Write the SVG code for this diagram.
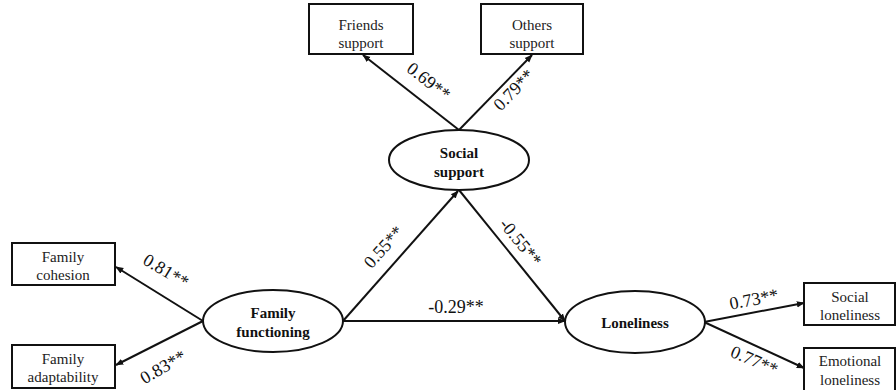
<svg xmlns="http://www.w3.org/2000/svg" width="896" height="390" viewBox="0 0 896 390">
<defs>
<style>
.box{fill:#fff;stroke:#111;stroke-width:2}
.ell{fill:#fff;stroke:#111;stroke-width:2}
.bt{font-family:"Liberation Serif","Times New Roman",serif;font-size:15px;fill:#222;text-anchor:middle}
.et{font-family:"Liberation Serif","Times New Roman",serif;font-size:15px;font-weight:bold;fill:#111;text-anchor:middle}
.lb{font-family:"Liberation Serif","Times New Roman",serif;font-size:18px;fill:#111;text-anchor:middle}
.ln{stroke:#111;stroke-width:2;fill:none;marker-end:url(#ah)}
</style>
<marker id="ah" viewBox="0 0 10 10" refX="9" refY="5" markerWidth="8" markerHeight="8" markerUnits="userSpaceOnUse" orient="auto">
<path d="M0,1 L10,5 L0,9 z" fill="#111"/>
</marker>
</defs>
<rect width="896" height="390" fill="#fff"/>
<g id="connectors">
<line class="ln" x1="459" y1="130" x2="363" y2="55"/>
<line class="ln" x1="459" y1="130" x2="532" y2="55"/>
<line class="ln" x1="343" y1="321" x2="458" y2="191"/>
<line class="ln" x1="459" y1="190" x2="565" y2="321"/>
<line class="ln" x1="343" y1="321" x2="565" y2="321"/>
<line class="ln" x1="203" y1="321" x2="116" y2="267"/>
<line class="ln" x1="203" y1="321" x2="116" y2="365"/>
<line class="ln" x1="704" y1="322" x2="804" y2="303"/>
<line class="ln" x1="704" y1="322" x2="804" y2="368"/>
<text class="lb" transform="translate(425,86) rotate(38)">0.69**</text>
<text class="lb" transform="translate(518,94) rotate(-46)">0.79**</text>
<text class="lb" transform="translate(388,251) rotate(-48)">0.55**</text>
<text class="lb" transform="translate(516,246) rotate(51)">-0.55**</text>
<text class="lb" x="456" y="313">-0.29**</text>
<text class="lb" transform="translate(163,276) rotate(31)">0.81**</text>
<text class="lb" transform="translate(166,372) rotate(-30)">0.83**</text>
<text class="lb" transform="translate(755,305) rotate(-11)">0.73**</text>
<text class="lb" transform="translate(752,366) rotate(23)">0.77**</text>
</g>
<g id="friends">
<rect class="box" x="309" y="4" width="104" height="50"/>
<text class="bt" x="361" y="30">Friends</text>
<text class="bt" x="361" y="48">support</text>
</g>
<g id="others">
<rect class="box" x="481" y="4" width="102" height="50"/>
<text class="bt" x="532" y="30">Others</text>
<text class="bt" x="532" y="48">support</text>
</g>
<g id="social-support">
<ellipse class="ell" cx="459" cy="160" rx="70" ry="30"/>
<text class="et" x="459" y="158">Social</text>
<text class="et" x="459" y="177">support</text>
</g>
<g id="family-functioning">
<ellipse class="ell" cx="273" cy="321" rx="70" ry="31"/>
<text class="et" x="273" y="318">Family</text>
<text class="et" x="273" y="337">functioning</text>
</g>
<g id="loneliness">
<ellipse class="ell" cx="635" cy="322" rx="70" ry="31"/>
<text class="et" x="635" y="328">Loneliness</text>
</g>
<g id="family-cohesion">
<rect class="box" x="12" y="243" width="103" height="42"/>
<text class="bt" x="63" y="262">Family</text>
<text class="bt" x="63" y="280">cohesion</text>
</g>
<g id="family-adaptability">
<rect class="box" x="12" y="345" width="103" height="43"/>
<text class="bt" x="63" y="364">Family</text>
<text class="bt" x="63" y="382">adaptability</text>
</g>
<g id="social-loneliness">
<rect class="box" x="804" y="283" width="91" height="42"/>
<text class="bt" x="850" y="302">Social</text>
<text class="bt" x="850" y="320">loneliness</text>
</g>
<g id="emotional-loneliness">
<rect class="box" x="804" y="348" width="91" height="48"/>
<text class="bt" x="850" y="366">Emotional</text>
<text class="bt" x="850" y="385">loneliness</text>
</g>
</svg>
